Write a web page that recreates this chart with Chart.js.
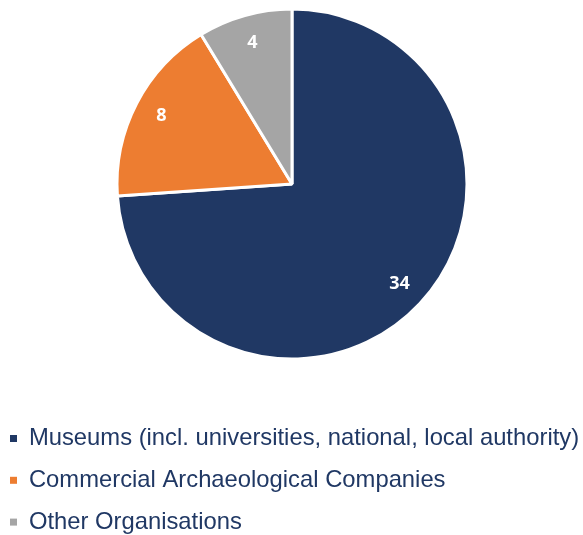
<!DOCTYPE html>
<html>
<head>
<meta charset="utf-8">
<script src="https://cdn.jsdelivr.net/npm/chart.js@4/dist/chart.umd.min.js"></script>
<style>
  html, body { margin: 0; padding: 0; background: #fff; overflow: hidden; }
  body { width: 583px; height: 535px; position: relative; }
  #wrap { position: absolute; left: -8px; top: 0; width: 600px; height: 544px; }
</style>
</head>
<body>
<div id="wrap"><canvas id="pie"></canvas></div>
<script>
const categories = [
  'Museums (incl. universities, national, local authority)',
  'Commercial Archaeological Companies',
  'Other Organisations'
];
const counts = [34, 8, 4];
const sliceColors = ['#203864', '#ED7D31', '#A5A5A5'];

// white value labels placed near the outer edge of each slice
const sliceLabels = {
  id: 'sliceLabels',
  afterDatasetsDraw(chart) {
    const ctx = chart.ctx;
    const meta = chart.getDatasetMeta(0);
    ctx.save();
    ctx.fillStyle = '#ffffff';
    ctx.font = 'bold 18px "Open Sans", sans-serif';
    ctx.textAlign = 'center';
    ctx.textBaseline = 'middle';
    meta.data.forEach((arc, i) => {
      const p = arc.getProps(['x', 'y', 'startAngle', 'endAngle', 'outerRadius'], true);
      const mid = (p.startAngle + p.endAngle) / 2;
      const r = p.outerRadius * 0.84;
      ctx.fillText(String(counts[i]), p.x + Math.cos(mid) * r, p.y + Math.sin(mid) * r);
    });
    ctx.restore();
  }
};

const defaultLabels = Chart.overrides.pie.plugins.legend.labels.generateLabels;

new Chart(document.getElementById('pie').getContext('2d'), {
  type: 'pie',
  data: {
    labels: categories,
    datasets: [{
      data: counts,
      backgroundColor: sliceColors,
      borderColor: '#ffffff',
      borderWidth: 3,
      radius: 175
    }]
  },
  options: {
    responsive: true,
    maintainAspectRatio: false,
    animation: false,
    events: [],
    layout: { padding: 0 },
    plugins: {
      tooltip: { enabled: false },
      legend: {
        position: 'bottom',
        align: 'start',
        // empty title only adds space between the pie and the legend rows
        title: { display: true, text: '', padding: { top: 16, bottom: 14.6 }, font: { size: 10, lineHeight: 1 } },
        labels: {
          boxWidth: 7,
          boxHeight: 7,
          padding: 18,
          color: '#203864',
          font: { family: '"Liberation Sans", Arial, sans-serif', size: 23.8 },
          // solid squares, without the white slice border
          generateLabels(chart) {
            return defaultLabels(chart).map(item => ({ ...item, lineWidth: 0, strokeStyle: 'rgba(0,0,0,0)' }));
          }
        }
      }
    }
  },
  plugins: [sliceLabels]
});
</script>
</body>
</html>
